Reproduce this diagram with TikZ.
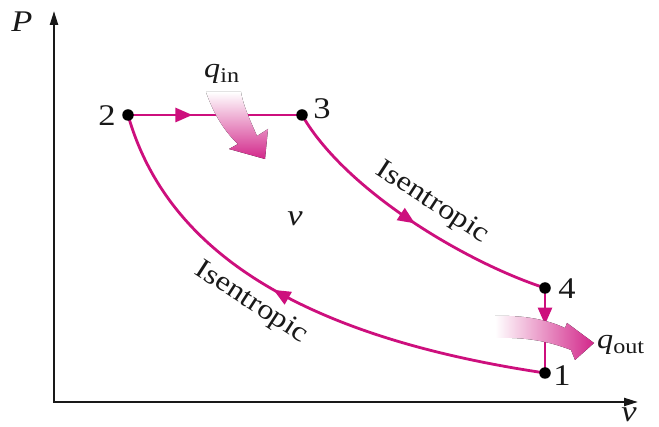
\documentclass[tikz,border=0pt]{standalone}
\usepackage{fontspec}
\setmainfont{Liberation Serif}[FakeStretch=1.15]
\usetikzlibrary{arrows.meta,decorations.markings}
\definecolor{mag}{RGB}{205,15,125}
\definecolor{axisc}{RGB}{25,25,25}
\begin{document}
\begin{tikzpicture}[x=1pt,y=-1pt,
  curve/.style={draw=mag,line width=2.8pt},
  axisline/.style={draw=axisc,line width=2.2pt},
  dot/.style={circle,fill=black,inner sep=0pt,minimum size=11.5pt},
  lbl/.style={font=\fontsize{30}{32}\selectfont,inner sep=0pt,text=axisc},
  isen/.style={font=\fontsize{28}{30}\selectfont,inner sep=0pt,text=axisc},
  ital/.style={font=\itshape\fontsize{30}{32}\selectfont,inner sep=0pt,text=axisc},
  qlab/.style={font=\itshape\fontsize{28}{30}\selectfont,inner sep=0pt,text=axisc,anchor=base west},
  midarrow/.style={postaction={decorate},decoration={markings,mark=at position #1 with {\arrow[mag]{Triangle[length=17pt,width=14pt]}}}},
  ]
\useasboundingbox (0,0) rectangle (659,427);
\fill[white] (0,0) rectangle (659,427);
% axes
\coordinate (O) at (54,402);
\coordinate (Ytop) at (54,11);
\coordinate (Xend) at (638,402);
\draw[axisline,{Triangle[length=14pt,width=8pt]}-{Triangle[length=14pt,width=8pt]}] (Ytop) -- (O) -- (Xend);
% state points
\coordinate (c2) at (128,115);
\coordinate (c3) at (302,115);
\coordinate (c4) at (545,288);
\coordinate (c1) at (545,373);
% processes
\draw[curve,midarrow=0.37] (c2) -- (c3);
\draw[curve,midarrow=0.52] (c3) .. controls (345,190) and (465,262) .. (c4);
\draw[curve,midarrow=0.43] (c4) -- (c1);
\draw[curve,midarrow=0.55] (c1) .. controls (290,335) and (165,245) .. (c2);
% heat arrows
\fill[top color=white,bottom color=mag!90] (206,92) .. controls (214,115) and (225,132) .. (238,144) -- (229,149) -- (265,159) -- (268,129) -- (257,136) .. controls (250,120) and (243,105) .. (241,92) -- cycle;
\fill[left color=white,right color=mag!90] (495,316) .. controls (525,315) and (548,320) .. (565,328) -- (567,323) -- (594,343) -- (575,360) -- (571,350) .. controls (548,341) and (525,337) .. (495,338) -- cycle;
% dots
\node[dot] (p2) at (c2) {};
\node[dot] (p3) at (c3) {};
\node[dot] (p4) at (c4) {};
\node[dot] (p1) at (c1) {};
% labels
\node[lbl] (l2) at (107,116) {2};
\node[lbl] (l3) at (322,109) {3};
\node[lbl] (l4) at (567,289) {4};
\node[lbl] (l1) at (562,376) {1};
\node[isen,rotate=-33] (i1) at (432,203) {Isentropic};
\node[isen,rotate=-33] (i2) at (251,303) {Isentropic};
\node[ital] (P) at (22,22) {P};
\node[ital] (vax) at (629,415) {v};
\node[ital] (vmid) at (295,219) {v};
\node[qlab] (qin) at (204,78) {q\raisebox{-5pt}{\upshape\fontsize{21}{22}\selectfont in}};
\node[qlab] (qout) at (597,349) {q\raisebox{-5pt}{\upshape\fontsize{21}{22}\selectfont out}};
\end{tikzpicture}
\end{document}
